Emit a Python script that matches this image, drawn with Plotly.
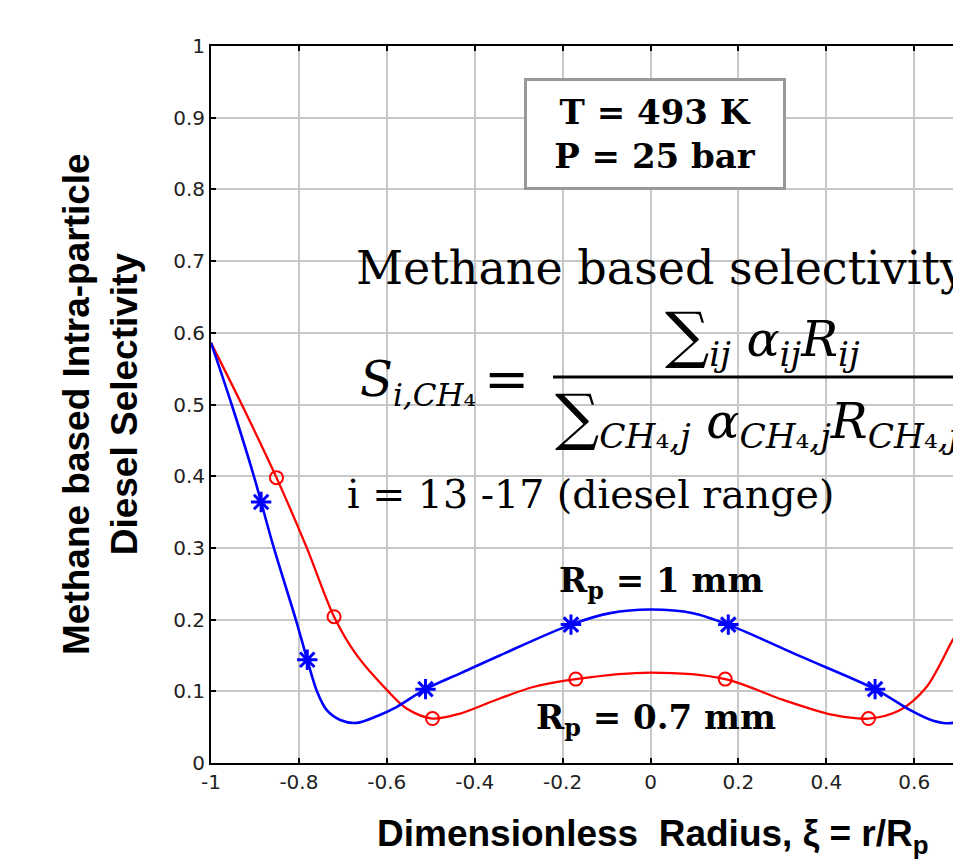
import plotly.graph_objects as go

# ---------------- data ----------------
x_tick_vals = [-1, -0.8, -0.6, -0.4, -0.2, 0, 0.2, 0.4, 0.6]
x_tick_text = ["-1", "-0.8", "-0.6", "-0.4", "-0.2", "0", "0.2", "0.4", "0.6"]
y_tick_vals = [0, 0.1, 0.2, 0.3, 0.4, 0.5, 0.6, 0.7, 0.8, 0.9, 1.0]
y_tick_text = ["0", "0.1", "0.2", "0.3", "0.4", "0.5", "0.6", "0.7", "0.8", "0.9", "1"]

# Rp = 1 mm (blue) - curve
blue_curve_x = [-1.0, -0.953, -0.900, -0.886, -0.857, -0.807, -0.781, -0.759, -0.737,
                -0.706, -0.668, -0.620, -0.578, -0.512, -0.433, -0.343, -0.181, -0.092,
                0.0, 0.097, 0.177, 0.340, 0.511, 0.590, 0.643, 0.688, 0.722, 0.752]
blue_curve_y = [0.586, 0.500, 0.395, 0.364, 0.300, 0.200, 0.144, 0.100, 0.074,
                0.060, 0.056, 0.066, 0.078, 0.103, 0.125, 0.150, 0.193, 0.209,
                0.214, 0.209, 0.193, 0.149, 0.103, 0.074, 0.059, 0.056, 0.069, 0.092]
# Rp = 1 mm (blue) - markers
blue_mark_x = [-0.886, -0.781, -0.512, -0.181, 0.177, 0.511]
blue_mark_y = [0.364, 0.144, 0.103, 0.193, 0.193, 0.103]

# Rp = 0.7 mm (red) - curve
red_curve_x = [-1.0, -0.930, -0.851, -0.782, -0.720, -0.668, -0.600, -0.555, -0.496,
               -0.433, -0.343, -0.267, -0.170, 0.0, 0.170, 0.302, 0.416, 0.496,
               0.568, 0.628, 0.688, 0.720, 0.782]
red_curve_y = [0.586, 0.500, 0.398, 0.300, 0.204, 0.150, 0.102, 0.076, 0.062,
               0.069, 0.090, 0.106, 0.117, 0.126, 0.117, 0.088, 0.067, 0.062,
               0.074, 0.106, 0.172, 0.204, 0.300]
# Rp = 0.7 mm (red) - markers
red_mark_x = [-0.851, -0.720, -0.496, -0.170, 0.170, 0.496]
red_mark_y = [0.398, 0.204, 0.062, 0.117, 0.117, 0.062]

# ---------------- figure ----------------
W, H = 953, 861
ML, MR, MT, MB = 211, 0, 46, 98
PW, PH = W - ML - MR, H - MT - MB


def px(xp):
    return (xp - ML) / PW


def py(yp):
    return (H - MB - yp) / PH


fig = go.Figure()
fig.add_trace(go.Scatter(x=red_curve_x, y=red_curve_y, mode="lines",
                         line=dict(color="#ff0000", width=2.3, shape="spline", smoothing=0.9),
                         showlegend=False, hoverinfo="skip"))
fig.add_trace(go.Scatter(x=blue_curve_x, y=blue_curve_y, mode="lines",
                         line=dict(color="#0000ff", width=2.6, shape="spline", smoothing=0.9),
                         showlegend=False, hoverinfo="skip"))
fig.add_trace(go.Scatter(x=red_mark_x, y=red_mark_y, mode="markers",
                         marker=dict(symbol="circle-open", size=13, color="#ff0000",
                                     line=dict(width=2, color="#ff0000")),
                         showlegend=False))
fig.add_trace(go.Scatter(x=blue_mark_x, y=blue_mark_y, mode="markers",
                         marker=dict(symbol="asterisk-open", size=17, color="#0000ff",
                                     line=dict(width=3, color="#0000ff")),
                         showlegend=False))

axis_common = dict(
    ticks="inside", ticklen=5, tickwidth=1.5, tickcolor="black",
    showline=True, linecolor="black", linewidth=2,
    showgrid=True, gridcolor="#c8c8c8", gridwidth=1.6, zeroline=False,
    tickfont=dict(family="DejaVu Sans", size=20, color="#222222"),
)
fig.update_xaxes(range=[-1, -1 + PW / 439.5], tickmode="array",
                 tickvals=x_tick_vals, ticktext=x_tick_text, mirror="ticks", **axis_common)
fig.update_yaxes(range=[0, 1], tickmode="array",
                 tickvals=y_tick_vals, ticktext=y_tick_text, mirror=False, **axis_common)

shapes = [
    # white area behind the equation (hides the grid there)
    dict(type="rect", xref="paper", yref="paper", x0=px(328), x1=1.05, y0=py(528), y1=py(228),
         fillcolor="white", line=dict(width=0), layer="between"),
    # fraction bar
    dict(type="line", xref="paper", yref="paper", x0=px(553), x1=1.05, y0=py(377), y1=py(377),
         line=dict(color="black", width=3), layer="above"),
]

serif = "DejaVu Serif"
math = "DejaVu Serif"
BIG = '<span style="font-size:62px">∑</span>'
annotations = [
    dict(text="<b>T = 493 K<br>P = 25 bar</b>", x=px(655), y=py(134), xref="paper", yref="paper",
         showarrow=False, font=dict(family=serif, size=34, color="black"),
         bgcolor="white", bordercolor="#999999", borderwidth=3, borderpad=0,
         width=256, height=106, xanchor="center", yanchor="middle"),
    dict(text="Methane based selectivity", x=px(354), y=py(268), xref="paper", yref="paper",
         showarrow=False, font=dict(family=serif, size=46, color="black"),
         xanchor="left", yanchor="middle"),
    dict(text='<i>S</i><sub><span style="font-size:31px"><i>i,CH</i>₄</span></sub>',
         x=px(358), y=py(382), xref="paper", yref="paper",
         showarrow=False, font=dict(family=math, size=48, color="black"),
         xanchor="left", yanchor="middle"),
    dict(text='=', x=px(506), y=py(379), xref="paper", yref="paper",
         showarrow=False, font=dict(family=math, size=54, color="black"),
         xanchor="center", yanchor="middle"),
    dict(text=BIG + "<sub><i>ij</i></sub> <i>α</i><sub><i>ij</i></sub><i>R</i><sub><i>ij</i></sub>",
         x=px(762), y=py(336), xref="paper", yref="paper",
         showarrow=False, font=dict(family=math, size=49, color="black"),
         xanchor="center", yanchor="middle"),
    dict(text=BIG + "<sub><i>CH</i>₄<i>,j</i></sub> <i>α</i><sub><i>CH</i>₄<i>,j</i></sub><i>R</i><sub><i>CH</i>₄<i>,j</i></sub>",
         x=px(553), y=py(418), xref="paper", yref="paper",
         showarrow=False, font=dict(family=math, size=49, color="black"),
         xanchor="left", yanchor="middle"),
    dict(text="i = 13 -17 (diesel range)", x=px(345), y=py(494), xref="paper", yref="paper",
         showarrow=False, font=dict(family=serif, size=39.5, color="black"),
         xanchor="left", yanchor="middle"),
    dict(text="<b>R<sub>p</sub> = 1 mm</b>", x=px(661), y=py(582), xref="paper", yref="paper",
         showarrow=False, font=dict(family=serif, size=34, color="black"),
         xanchor="center", yanchor="middle"),
    dict(text="<b>R<sub>p</sub> = 0.7 mm</b>", x=px(656), y=py(719), xref="paper", yref="paper",
         showarrow=False, font=dict(family=serif, size=34, color="black"),
         xanchor="center", yanchor="middle"),
    # axis titles
    dict(text="<b>Dimensionless\u00a0 Radius, ξ = r/R<sub>p</sub></b>", x=px(653), y=py(836),
         xref="paper", yref="paper", showarrow=False,
         font=dict(family="Liberation Sans", size=37, color="black"),
         xanchor="center", yanchor="middle"),
    dict(text="<b>Methane based Intra-particle<br>Diesel Selectivity</b>", x=px(100), y=py(404),
         xref="paper", yref="paper", showarrow=False, textangle=-90,
         font=dict(family="Liberation Sans", size=37, color="black"),
         xanchor="center", yanchor="middle"),
]

fig.update_layout(
    width=W, height=H, margin=dict(l=ML, r=MR, t=MT, b=MB, pad=0),
    plot_bgcolor="white", paper_bgcolor="white",
    shapes=shapes, annotations=annotations, showlegend=False,
)

fig.write_html("out.html")
